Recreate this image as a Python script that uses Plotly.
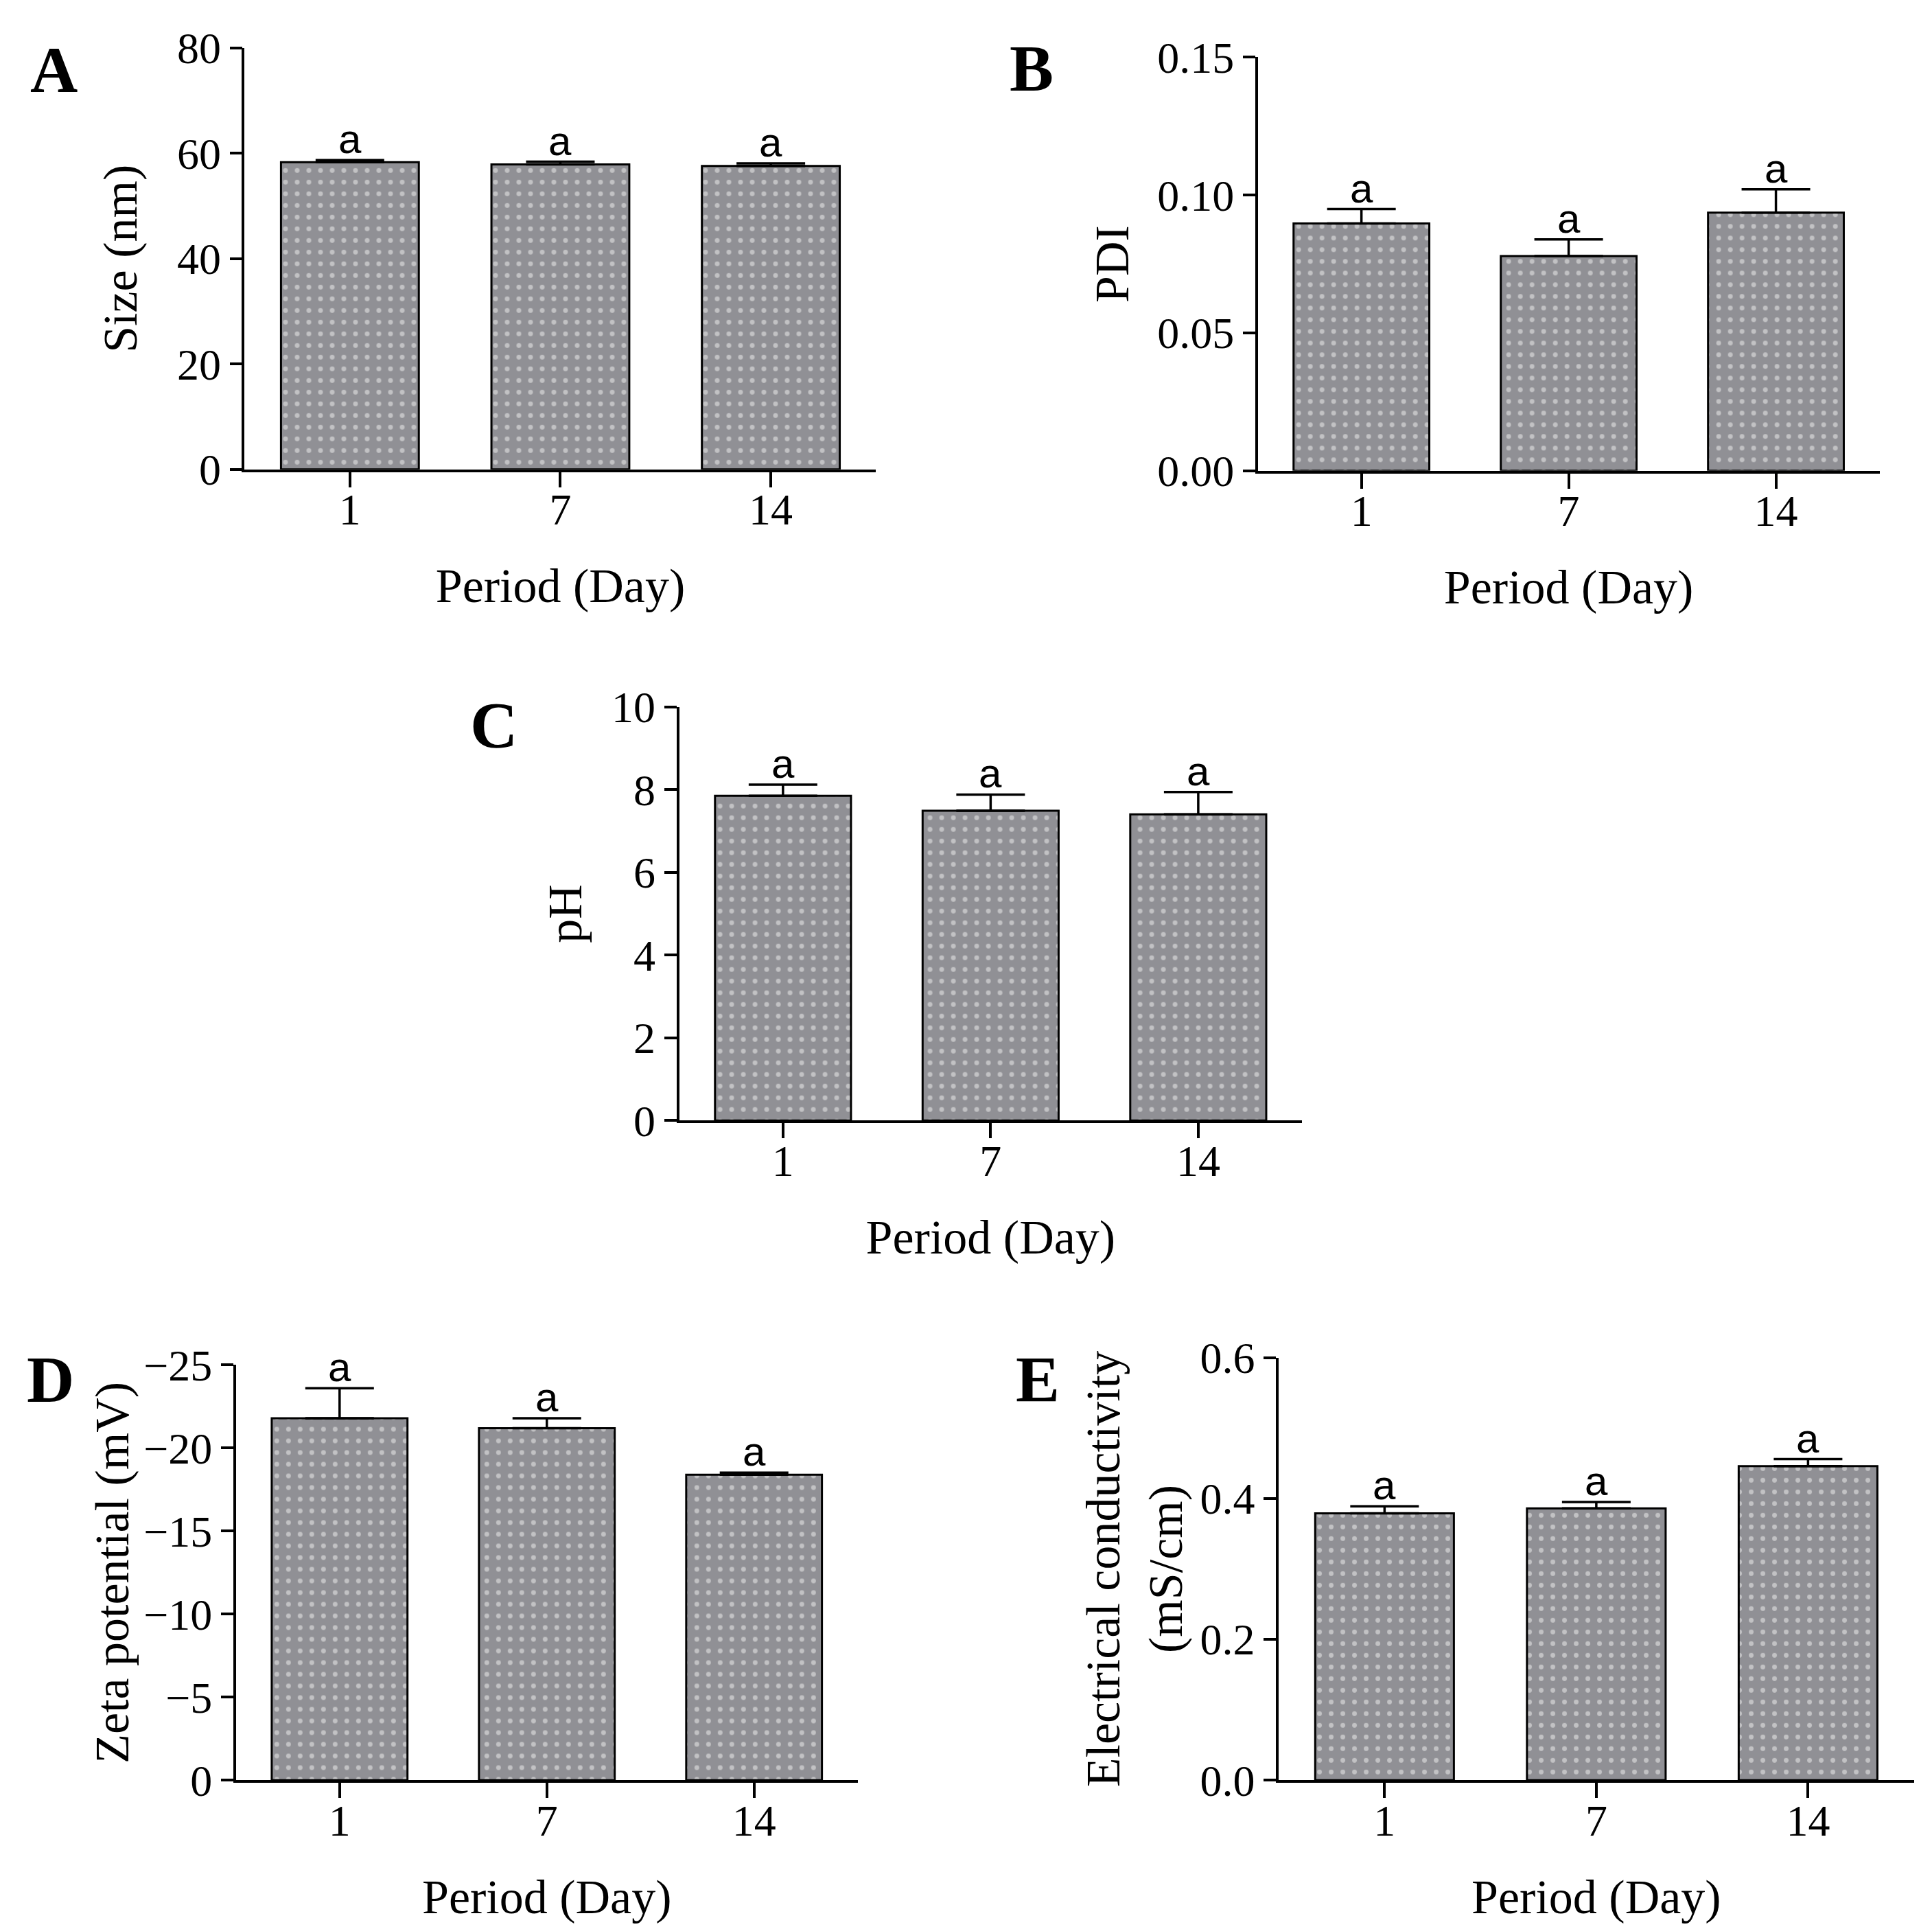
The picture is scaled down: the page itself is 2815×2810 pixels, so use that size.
import plotly.graph_objects as go

days = ["1", "7", "14"]

size_mean = [58.3, 57.9, 57.6]
size_err = [0.4, 0.5, 0.5]

pdi_mean = [0.0897, 0.0779, 0.0936]
pdi_err = [0.0052, 0.0060, 0.0085]

ph_mean = [7.85, 7.49, 7.40]
ph_err = [0.27, 0.39, 0.54]

zeta_mean = [-21.8, -21.2, -18.4]
zeta_err = [1.8, 0.6, 0.12]

ec_mean = [0.379, 0.386, 0.446]
ec_err = [0.010, 0.009, 0.010]

letters = ["A", "B", "C", "D", "E"]
sig = ["a", "a", "a"]

SERIF = "Liberation Serif"
W, H = 2815, 2810


def add_panel(fig, n, mean, err, xdom, ydom, yrange, dtick, fmt, ytitle, ystand, down=False):
    """Add one bar panel with its own axes."""
    xa = "x" if n == 1 else f"x{n}"
    ya = "y" if n == 1 else f"y{n}"
    zeros = [0] * len(err)
    fig.add_trace(go.Bar(
        x=days, y=mean, xaxis=xa, yaxis=ya, width=0.655,
        marker=dict(
            color="#909095",
            line=dict(color="black", width=3),
            pattern=dict(shape=".", fgcolor="#f4f4f4", bgcolor="#909095",
                         size=17, solidity=0.13),
        ),
        error_y=dict(
            type="data", symmetric=False,
            array=zeros if down else err,
            arrayminus=err if down else zeros,
            color="black", thickness=3.5, width=50,
        ),
        showlegend=False,
    ))
    # category axis: annotations are placed by category index
    for i, (m, e, s) in enumerate(zip(mean, err, sig)):
        fig.add_annotation(
            x=i, y=(m - e) if down else (m + e), xref=xa, yref=ya,
            text=s, showarrow=False, yanchor="bottom", yshift=-5,
            font=dict(family="Liberation Sans", size=60, color="black"),
        )
    axis_common = dict(showline=True, linecolor="black", linewidth=3.5,
                       ticks="outside", tickcolor="black", tickwidth=3.5,
                       tickfont=dict(family=SERIF, size=64, color="black"),
                       showgrid=False, zeroline=False, automargin=False)
    fig.layout[f"xaxis{'' if n == 1 else n}"] = dict(
        domain=xdom, anchor=ya, type="category", range=[-0.5, 2.5],
        ticklen=22, ticklabelstandoff=-22,
        title=dict(text="Period (Day)", standoff=52,
                   font=dict(family=SERIF, size=70, color="black")),
        **axis_common)
    fig.layout[f"yaxis{'' if n == 1 else n}"] = dict(
        domain=ydom, anchor=xa, range=yrange, dtick=dtick, tickformat=fmt,
        ticklen=18,
        title=dict(text=ytitle, standoff=ystand,
                   font=dict(family=SERIF, size=70, color="black")),
        **axis_common)


fig = go.Figure()

add_panel(fig, 1, size_mean, size_err, [0.1238, 0.4506], [0.7595, 0.9780],
          [0, 80], 20, "d", "Size (nm)", 36)
add_panel(fig, 2, pdi_mean, pdi_err, [0.6482, 0.9700], [0.7588, 0.9732],
          [0, 0.15], 0.05, ".2f", "PDI", 20)
add_panel(fig, 3, ph_mean, ph_err, [0.3487, 0.6711], [0.4220, 0.6364],
          [0, 10], 2, "d", "pH", 22)
add_panel(fig, 4, zeta_mean, zeta_err, [0.1193, 0.4411], [0.0800, 0.2952],
          [0, -25], 5, "d", "Zeta potential (mV)", 0, down=True)
add_panel(fig, 5, ec_mean, ec_err, [0.6590, 0.9878], [0.0800, 0.2990],
          [0, 0.6], 0.2, ".1f", "Electrical conductivity<br>(mS/cm)", 4)

letter_pos = [(0.025, 0.9667), (0.531, 0.9674), (0.2527, 0.627),
              (0.0231, 0.2879), (0.5342, 0.2879)]
for t, (lx, ly) in zip(letters, letter_pos):
    fig.add_annotation(
        x=lx, y=ly, xref="paper", yref="paper", text=f"<b>{t}</b>",
        showarrow=False, xanchor="center", yanchor="middle",
        font=dict(family=SERIF, size=96, color="black"),
    )

fig.update_layout(
    width=W, height=H,
    margin=dict(l=0, r=0, t=0, b=0, autoexpand=False),
    paper_bgcolor="white", plot_bgcolor="white",
    bargap=0.35,
)

fig.write_html("out.html")
